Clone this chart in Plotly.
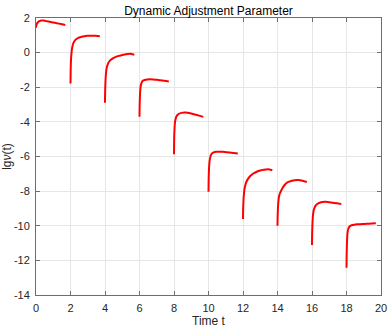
import plotly.graph_objects as go

# Time offsets within each 2-unit segment
t_offsets = [0, 0.01, 0.03, 0.06, 0.1, 0.15, 0.2, 0.3, 0.45, 0.6, 0.8, 1.0, 1.2, 1.45, 1.7]
segment_starts = [0, 2, 4, 6, 8, 10, 12, 14, 16, 18]

seg0 = [1.44, 1.52, 1.60, 1.68, 1.74, 1.79, 1.82, 1.85, 1.85, 1.82, 1.78, 1.74, 1.70, 1.65, 1.60]
seg1 = [-1.79, -1.0, -0.4, 0.0, 0.30, 0.50, 0.61, 0.75, 0.85, 0.90, 0.95, 0.97, 0.98, 0.97, 0.95]
seg2 = [-2.9, -2.2, -1.6, -1.15, -0.88, -0.70, -0.58, -0.45, -0.33, -0.26, -0.19, -0.14, -0.09, -0.06, -0.12]
seg3 = [-3.71, -3.0, -2.4, -2.0, -1.8, -1.68, -1.62, -1.58, -1.55, -1.54, -1.55, -1.57, -1.60, -1.63, -1.67]
seg4 = [-5.87, -5.0, -4.4, -4.0, -3.8, -3.67, -3.60, -3.52, -3.48, -3.46, -3.47, -3.52, -3.57, -3.64, -3.71]
seg5 = [-8.04, -7.3, -6.7, -6.3, -6.05, -5.90, -5.82, -5.76, -5.73, -5.72, -5.73, -5.75, -5.77, -5.80, -5.83]
seg6 = [-9.61, -9.0, -8.5, -8.1, -7.8, -7.6, -7.46, -7.28, -7.10, -6.98, -6.88, -6.81, -6.76, -6.73, -6.79]
seg7 = [-10.0, -9.4, -8.9, -8.5, -8.25, -8.1, -8.0, -7.8, -7.6, -7.48, -7.41, -7.37, -7.36, -7.40, -7.47]
seg8 = [-11.11, -10.4, -9.8, -9.35, -9.1, -8.95, -8.85, -8.74, -8.67, -8.63, -8.62, -8.64, -8.67, -8.70, -8.75]
seg9 = [-12.42, -11.6, -10.9, -10.4, -10.2, -10.08, -10.02, -9.97, -9.94, -9.92, -9.91, -9.90, -9.89, -9.87, -9.86]
segments = [seg0, seg1, seg2, seg3, seg4, seg5, seg6, seg7, seg8, seg9]

x_ticks = [0, 2, 4, 6, 8, 10, 12, 14, 16, 18, 20]
y_ticks = [-14, -12, -10, -8, -6, -4, -2, 0, 2]

fig = go.Figure()
for start, ys in zip(segment_starts, segments):
    fig.add_trace(go.Scatter(
        x=[start + o for o in t_offsets], y=ys, mode="lines",
        line=dict(color="#ff0000", width=2, shape="spline", smoothing=0.6),
        showlegend=False, hoverinfo="skip"))

font_family = "Liberation Sans, Arial, sans-serif"
axis_common = dict(
    showline=True, linecolor="#6e6e6e", linewidth=1, mirror="ticks",
    ticks="inside", ticklen=4, tickcolor="#6e6e6e", tickwidth=1,
    showgrid=True, gridcolor="#e6e6e6", gridwidth=1, zeroline=False,
    tickfont=dict(family=font_family, size=11, color="#262626"),
    automargin=False,
)

fig.update_layout(
    width=389, height=330,
    margin=dict(l=36, r=8, t=18, b=35),
    paper_bgcolor="white", plot_bgcolor="white",
    font=dict(family=font_family, color="#262626"),
    title=dict(text="Dynamic Adjustment Parameter", x=0.5, xref="paper",
               y=1, yref="paper", yanchor="bottom", pad=dict(b=3),
               font=dict(size=12, color="#000000", family=font_family)),
    xaxis=dict(range=[0, 20], tickvals=x_ticks, ticktext=[str(v) for v in x_ticks],
               ticklabelstandoff=3,
               title=dict(text="Time t", standoff=3, font=dict(size=12, color="#262626")),
               **axis_common),
    yaxis=dict(range=[-14, 2], tickvals=y_ticks, ticktext=[str(v) for v in y_ticks],
               ticklabelstandoff=3,
               title=dict(text="lg<i>ν</i>(t)", standoff=4, font=dict(size=12, color="#262626")),
               **axis_common),
)

# remove the browser's default 8px body margin so the figure fills the window
fig.write_html("out.html", config={"displayModeBar": False},
               post_script="document.body.style.margin='0px';")
